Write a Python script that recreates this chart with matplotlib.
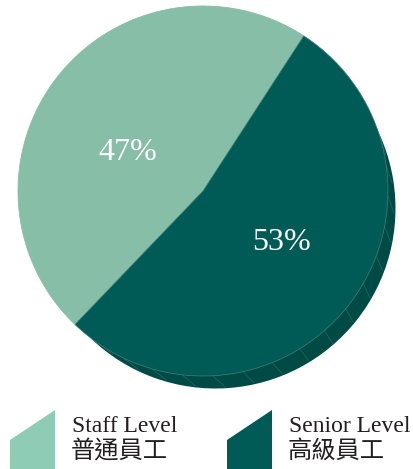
import matplotlib
matplotlib.use("Agg")
import matplotlib.pyplot as plt
import numpy as np
from matplotlib.patches import Polygon

categories_en = ["Staff Level", "Senior Level"]
categories_zh = ["普通員工", "高級員工"]
shares = [47, 53]
pct_labels = ["47%", "53%"]

top_colors = ["#87BEA8", "#005B56"]
side_colors = ["#6E9E8C", "#004A46"]
legend_colors = ["#8FCCB5", "#005B56"]
text_color = "#231F20"

W, H = 413, 469
fig = plt.figure(figsize=(W / 100, H / 100), dpi=100)
ax = fig.add_axes([0, 0, 1, 1])

cx, cy, r = 203, H - 191, 185
dx, dy, r2 = 12.5, -17.5, 180

# side (depth) of the pie
ax.pie(shares, colors=side_colors, startangle=57, counterclock=True,
       center=(cx + dx, cy + dy), radius=r2, frame=True,
       wedgeprops=dict(linewidth=0))
# facet lines on the side
for ang in np.arange(-125, 30, 9.5):
    t = np.deg2rad(ang)
    ax.plot([cx + r * np.cos(t), cx + dx + (r2 - 1.5) * np.cos(t)],
            [cy + r * np.sin(t), cy + dy + (r2 - 1.5) * np.sin(t)],
            color="#2A6B65", lw=0.45, zorder=1.5, solid_capstyle="butt")
# top of the pie
wedges, _ = ax.pie(shares, colors=top_colors, startangle=57, counterclock=True,
                   center=(cx, cy), radius=r, frame=True,
                   wedgeprops=dict(linewidth=0.6))
for w in wedges:
    w.set_zorder(2)
    w.set_edgecolor(w.get_facecolor())
wedges[1].set_edgecolor("#3E827A")
wedges[1].set_linewidth(0.5)

ax.text(cx - 75, cy + 39, pct_labels[0], color="white", fontsize=23,
        family="Liberation Serif", ha="center", va="center", zorder=3)
ax.text(cx + 78, cy - 51, pct_labels[1], color="white", fontsize=23,
        family="Liberation Serif", ha="center", va="center", zorder=3)

# legend
for i, (en, zh) in enumerate(zip(categories_en, categories_zh)):
    x0 = 10 + i * 217
    poly = Polygon([(x0, H - 440), (x0 + 45, H - 410), (x0 + 45, H - 499),
                    (x0, H - 469)], closed=True, facecolor=legend_colors[i],
                   edgecolor="none")
    ax.add_patch(poly)
    ax.text(x0 + 62, H - 432, en, color=text_color, fontsize=17,
            family="Liberation Serif", ha="left", va="baseline")
    ax.text(x0 + 61, H - 451, zh, color=text_color, fontsize=17.5,
            family=["Noto Sans CJK TC", "DejaVu Sans"], ha="left", va="center",
            fontweight="light")

ax.set_xlim(0, W)
ax.set_ylim(0, H)
ax.set_aspect("auto")
ax.axis("off")
fig.savefig("out.png", dpi=100)
